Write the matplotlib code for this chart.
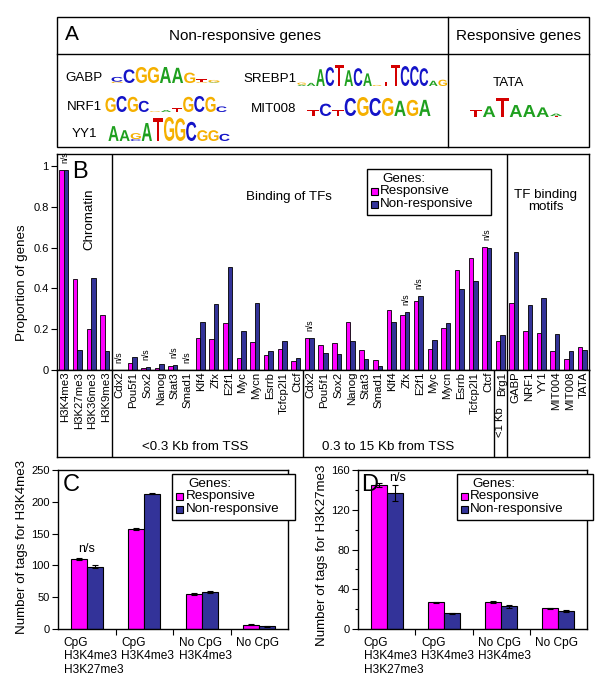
import numpy as np
import matplotlib
matplotlib.use('Agg')
import matplotlib.pyplot as plt
from matplotlib.textpath import TextPath
from matplotlib.patches import PathPatch, Rectangle
from matplotlib.font_manager import FontProperties
from matplotlib.transforms import Affine2D

plt.rcParams['font.family'] = ['Liberation Sans', 'DejaVu Sans']

# ---- data -------------------------------------------------------------
# panel A: sequence logos, each column = list of (letter, relative height)
gabp_logo = [[('G', 0.08), ('C', 0.3)], [('C', 0.85)], [('G', 1.0)], [('G', 1.0)],
             [('A', 1.0)], [('A', 0.95)], [('G', 0.65)], [('G', 0.05), ('T', 0.18)],
             [('A', 0.04), ('G', 0.15)]]
nrf1_logo = [[('G', 0.9)], [('C', 1.0)], [('G', 0.95)], [('C', 0.7)], [('G', 0.05)],
             [('A', 0.12)], [('T', 0.25)], [('G', 0.95)], [('C', 1.0)], [('G', 0.95)],
             [('C', 0.35)]]
yy1_logo = [[('A', 0.62)], [('A', 0.45)], [('C', 0.08), ('G', 0.25)], [('A', 0.75)],
            [('T', 0.95)], [('G', 1.0)], [('G', 0.95)], [('C', 0.8)], [('G', 0.45)],
            [('G', 0.45)], [('C', 0.3)]]
srebp1_logo = [[('A', 0.06), ('G', 0.1)], [('A', 0.15)], [('A', 0.8)], [('C', 0.9)],
               [('T', 1.0)], [('A', 0.75)], [('C', 0.85)], [('A', 0.6)], [('G', 0.05)],
               [('T', 0.2)], [('T', 1.0)], [('C', 0.95)], [('C', 0.95)], [('C', 0.85)],
               [('A', 0.25)], [('G', 0.3)]]
mit008_logo = [[('T', 0.3)], [('C', 0.65)], [('T', 0.3)], [('C', 0.95)], [('G', 1.0)],
               [('C', 0.95)], [('G', 0.95)], [('A', 0.8)], [('G', 0.85)], [('A', 0.85)]]
tata_logo = [[('T', 0.28)], [('A', 0.45)], [('T', 0.8)], [('A', 0.5)], [('A', 0.5)],
             [('A', 0.4)], [('T', 0.04), ('A', 0.1)]]

# panel B
chrom_labels = ['H3K4me3', 'H3K27me3', 'H3K36me3', 'H3K9me3']
tf_labels = ['Cdx2', 'Pou5f1', 'Sox2', 'Nanog', 'Stat3', 'Smad1', 'Klf4', 'Zfx',
             'E2f1', 'Myc', 'Mycn', 'Esrrb', 'Tcfcp2l1', 'Ctcf']
motif_labels = ['GABP', 'NRF1', 'YY1', 'MIT004', 'MIT008', 'TATA']
b_labels = chrom_labels + tf_labels + tf_labels + ['Brg1'] + motif_labels

b_resp = [0.98, 0.447, 0.20, 0.272,
          0, 0.033, 0.011, 0.011, 0.02, 0, 0.158, 0.151, 0.23, 0.061, 0.135, 0.075, 0.105, 0.046,
          0.158, 0.123, 0.133, 0.233, 0.097, 0.048, 0.296, 0.271, 0.338, 0.102, 0.208, 0.491, 0.55, 0.601,
          0.143,
          0.328, 0.189, 0.181, 0.095, 0.053, 0.115]
b_non = [0.98, 0.099, 0.453, 0.092,
         0, 0.066, 0.013, 0.031, 0.026, 0, 0.233, 0.325, 0.507, 0.189, 0.33, 0.095, 0.143, 0.059,
         0.155, 0.084, 0.079, 0.143, 0.056, 0.02, 0.235, 0.286, 0.361, 0.149, 0.228, 0.396, 0.437, 0.598,
         0.171,
         0.58, 0.319, 0.353, 0.176, 0.092, 0.097]
b_ns = [0, 4, 6, 8, 9, 18, 25, 26, 31]

# panels C and D
cd_labels = ['CpG\nH3K4me3\nH3K27me3', 'CpG\nH3K4me3', 'No CpG\nH3K4me3', 'No CpG']
c_resp = [110, 157, 55, 7]
c_resp_err = [1.5, 2, 2, 0.5]
c_non = [98, 213, 58, 4.5]
c_non_err = [2, 1, 1.5, 1]
d_resp = [145, 27, 27.5, 21]
d_resp_err = [2, 0.5, 1, 0.5]
d_non = [136.5, 16, 23, 18]
d_non_err = [8, 0.5, 1.5, 0.8]

# ---- layout helpers ---------------------------------------------------
W, H = 600, 691
PINK = '#ff00ff'
BLUE = '#333399'
LOGO_COLORS = {'A': '#1fa01f', 'C': '#1414c8', 'G': '#f5b000', 'T': '#d40000'}
FS = 9.6


def rect(x0, y0, x1, y1):
    return [x0 / W, 1 - y1 / H, (x1 - x0) / W, (y1 - y0) / H]


fig = plt.figure(figsize=(6, 6.91), dpi=100)


def style_axis(ax):
    for s in ax.spines.values():
        s.set_linewidth(1)
    ax.tick_params(axis='y', direction='out', length=4, width=0.8, labelsize=8, pad=2)


# ---- panel B ----------------------------------------------------------
axb = fig.add_axes(rect(57, 154, 589, 370))
xb = np.arange(len(b_labels))
axb.bar(xb - 0.165, b_resp, 0.33, color=PINK, edgecolor='black', linewidth=0.6)
axb.bar(xb + 0.165, b_non, 0.33, color=BLUE, edgecolor='black', linewidth=0.6)
axb.set_xlim(-0.5, len(b_labels) - 0.5)
axb.set_ylim(0, 216 / 204)
axb.set_yticks([0, 0.2, 0.4, 0.6, 0.8, 1.0])
axb.set_yticklabels(['0', '0.2', '0.4', '0.6', '0.8', '1'])
axb.set_xticks([])
axb.axvline(3.5, color='black', lw=1)
axb.axvline(32.5, color='black', lw=1)
style_axis(axb)
for i in b_ns:
    axb.text(i + 0.05, max(b_resp[i], b_non[i]) + 0.035, 'n/s', rotation=90,
             ha='center', va='bottom', fontsize=6.3)

axl = fig.add_axes(rect(57, 370, 589, 457))
axl.set_xlim(-0.5, len(b_labels) - 0.5)
axl.set_ylim(1, 0)
axl.set_xticks([])
axl.set_yticks([])
for s in axl.spines.values():
    s.set_linewidth(1)
for v in [3.5, 17.5, 31.5, 32.5]:
    axl.axvline(v, color='black', lw=1)
for i, lab in enumerate(b_labels):
    axl.text(i + 0.1, 0.02, lab, rotation=90, ha='center', va='top', fontsize=8.2)

# ---- panels C and D ---------------------------------------------------
def tag_panel(box, resp, resp_err, non, non_err, ymax, ticks, minor):
    ax = fig.add_axes(rect(*box))
    xc = np.arange(len(cd_labels))
    ekw = dict(lw=0.8, capthick=0.8)
    ax.bar(xc - 0.14, resp, 0.28, color=PINK, edgecolor='black', linewidth=0.8,
           yerr=resp_err, capsize=2, error_kw=ekw)
    ax.bar(xc + 0.14, non, 0.28, color=BLUE, edgecolor='black', linewidth=0.8,
           yerr=non_err, capsize=2, error_kw=ekw)
    ax.set_xlim(-0.5, len(cd_labels) - 0.5)
    ax.set_ylim(0, ymax)
    ax.set_yticks(ticks)
    if minor:
        ax.set_yticks(minor, minor=True)
        ax.tick_params(axis='y', which='minor', length=2, width=0.8)
    ax.set_xticks([0.5, 1.5, 2.5])
    ax.set_xticklabels([])
    ax.tick_params(axis='x', direction='out', length=4, width=0.8)
    style_axis(ax)
    for i, lab in enumerate(cd_labels):
        ax.text(i - 0.4, -0.05, lab, transform=ax.get_xaxis_transform(), ha='left',
                va='top', fontsize=8.6, linespacing=1.15)
    return ax


axc = tag_panel((58, 470, 288, 629), c_resp, c_resp_err, c_non, c_non_err,
                250, [0, 50, 100, 150, 200, 250], None)
axc.text(0, max(c_resp[0], c_non[0]) + 7, 'n/s', ha='center', va='bottom', fontsize=9)

axd = tag_panel((358, 470, 587, 629), d_resp, d_resp_err, d_non, d_non_err,
                160, [0, 40, 80, 120, 160], [20, 60, 100, 140])
axd.text(0.2, d_non[0] + d_non_err[0] + 1, 'n/s', ha='center', va='bottom', fontsize=9)

# ---- overlay: panel A, titles, legends ---------------------------------
ov = fig.add_axes([0, 0, 1, 1])
ov.set_xlim(0, W)
ov.set_ylim(H, 0)
ov.axis('off')

logo_font = FontProperties(family='Liberation Sans', weight='bold')


def draw_letter(ch, x, y_base, w, h):
    tp = TextPath((0, 0), ch, size=1, prop=logo_font)
    bb = tp.get_extents()
    tr = (Affine2D().translate(-bb.x0, -bb.y0)
          .scale(w / bb.width, -h / bb.height).translate(x, y_base))
    ov.add_patch(PathPatch(tr.transform_path(tp), facecolor=LOGO_COLORS[ch],
                           edgecolor='none'))


def draw_logo(cols, x0, base, colw, hmax):
    for k, col in enumerate(cols):
        y = base
        for ch, f in sorted(col, key=lambda t: t[1]):
            h = f * hmax
            draw_letter(ch, x0 + k * colw + 0.04 * colw, y, 0.92 * colw, h)
            y -= h


ov.add_patch(Rectangle((57, 17), 532, 130, fill=False, lw=1, ec='black'))
ov.plot([57, 589], [54, 54], color='black', lw=1)
ov.plot([448, 448], [17, 147], color='black', lw=1)
ov.text(65, 34, 'A', fontsize=15, ha='left', va='center')
ov.text(245, 36, 'Non-responsive genes', fontsize=11, ha='center', va='center')
ov.text(519, 36, 'Responsive genes', fontsize=11, ha='center', va='center')

ov.text(65, 78, 'GABP', fontsize=FS, ha='left', va='center')
ov.text(67, 107, 'NRF1', fontsize=FS, ha='left', va='center')
ov.text(72, 134, 'YY1', fontsize=FS, ha='left', va='center')
ov.text(243, 79, 'SREBP1', fontsize=FS, ha='left', va='center')
ov.text(251, 109, 'MIT008', fontsize=FS, ha='left', va='center')
ov.text(508, 83, 'TATA', fontsize=FS, ha='center', va='center')

draw_logo(gabp_logo, 111, 83, 12.1, 16)
draw_logo(nrf1_logo, 105, 112, 11.1, 16)
draw_logo(yy1_logo, 108, 141, 11.1, 24)
draw_logo(srebp1_logo, 297, 86, 9.4, 21)
draw_logo(mit008_logo, 307, 116, 12.4, 19)
draw_logo(tata_logo, 469, 117, 13.4, 24)

# panel B texts
ov.text(72, 172, 'B', fontsize=17, ha='left', va='center')
ov.text(89, 219, 'Chromatin', fontsize=FS, rotation=90, ha='center', va='center')
ov.text(289, 197, 'Binding of TFs', fontsize=FS, ha='center', va='center')
ov.text(546, 201, 'TF binding\nmotifs', fontsize=FS, ha='center', va='center',
        linespacing=1.1)
ov.text(195, 447, '<0.3 Kb from TSS', fontsize=FS, ha='center', va='center')
ov.text(388, 447, '0.3 to 15 Kb from TSS', fontsize=FS, ha='center', va='center')
ov.text(500, 422, '<1 Kb', fontsize=8.2, rotation=90, ha='center', va='center')
ov.text(22, 283, 'Proportion of genes', fontsize=FS, rotation=90, ha='center', va='center')
ov.text(22, 547, 'Number of tags for H3K4me3', fontsize=FS, rotation=90,
        ha='center', va='center')
ov.text(322, 555, 'Number of tags for H3K27me3', fontsize=FS, rotation=90,
        ha='center', va='center')
ov.text(63, 485, 'C', fontsize=17, ha='left', va='center')
ov.text(361, 485, 'D', fontsize=17, ha='left', va='center')


def legend_box(x0, y0, w, sq_x, txt_x):
    ov.add_patch(Rectangle((x0, y0), w, 46, fc='white', ec='black', lw=1, zorder=3))
    ov.text(txt_x + 2, y0 + 10, 'Genes:', fontsize=FS, ha='left', va='center', zorder=4)
    for k, (c, lab) in enumerate([(PINK, 'Responsive'), (BLUE, 'Non-responsive')]):
        yc = y0 + 22 + 13 * k
        ov.add_patch(Rectangle((sq_x, yc - 3.5), 7, 7, fc=c, ec='black', lw=0.8, zorder=4))
        ov.text(txt_x, yc, lab, fontsize=FS, ha='left', va='center', zorder=4)


legend_box(367, 169, 124, 371, 380)
legend_box(172, 474, 123, 176, 186)
legend_box(457, 474, 136, 461, 470)

fig.savefig('out.png', dpi=100)
